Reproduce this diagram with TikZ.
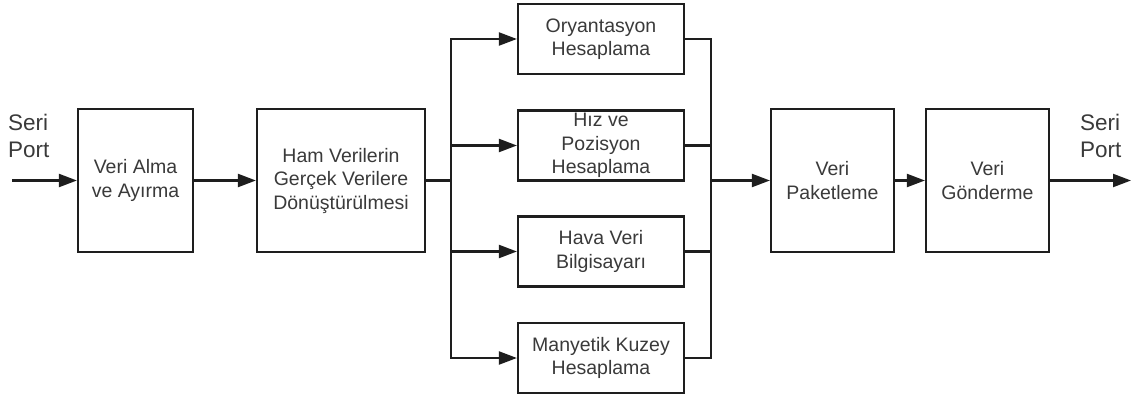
\documentclass[tikz,border=0pt]{standalone}
\usepackage{fontspec}
\setmainfont{Liberation Sans}
\usetikzlibrary{arrows.meta}
\definecolor{txt}{HTML}{3A3A3A}
\definecolor{ln}{HTML}{1E1E1E}
\begin{document}
\begin{tikzpicture}[x=1pt,y=-1pt,
  blk/.style={draw=ln,line width=2.2pt,fill=white,align=center,text=txt,
    font=\fontsize{19.5}{23.5}\selectfont,inner sep=0pt},
  lbl/.style={align=left,text=txt,font=\fontsize{22.5}{27}\selectfont,inner sep=0pt},
  wire/.style={draw=ln,line width=2.2pt},
  arr/.style={wire,-{Triangle[length=18pt,width=13pt]}}]
\useasboundingbox (0,0) rectangle (1137,401);

% main chain
\node[blk,minimum width=115pt,minimum height=143pt] (alma) at (135.5,180.5) {Veri Alma\\ve Ayırma};
\node[blk,minimum width=168pt,minimum height=143pt] (ham) at (341,180.5) {Ham Verilerin\\Gerçek Verilere\\Dönüştürülmesi};
\node[blk,minimum width=123pt,minimum height=143pt] (paket) at (832.5,180.5) {Veri\\Paketleme};
\node[blk,minimum width=123pt,minimum height=143pt] (gonder) at (987.5,180.5) {Veri\\Gönderme};

% parallel computations
\node[blk,minimum width=166pt,minimum height=70pt] (ory) at (601,39) {Oryantasyon\\Hesaplama};
\node[blk,minimum width=166pt,minimum height=70pt] (hiz) at (601,145.5) {Hız ve\\Pozisyon\\Hesaplama};
\node[blk,minimum width=166pt,minimum height=70pt] (hava) at (601,251.5) {Hava Veri\\Bilgisayarı};
\node[blk,minimum width=166pt,minimum height=70pt] (kuzey) at (601,358) {Manyetik Kuzey\\Hesaplama};

% port labels
\node[lbl,anchor=north west] (inlbl) at (8,114) {Seri\\Port};
\node[lbl,anchor=north west] (outlbl) at (1080,114) {Seri\\Port};

\coordinate (in) at (12,180.5);
\coordinate (out) at (1131,180.5);
\coordinate (brL) at (451,180.5);
\coordinate (brR) at (711,180.5);

% connectors
\draw[arr] (in) -- (alma.west);
\draw[arr] (alma.east) -- (ham.west);
\draw[wire] (ham.east) -- (brL);
\foreach \n in {ory,hiz,hava,kuzey}{
  \draw[arr] (brL) |- (\n.west);
  \draw[wire] (\n.east) -| (brR);
}
\draw[arr] (brR) -- (paket.west);
\draw[arr] (paket.east) -- (gonder.west);
\draw[arr] (gonder.east) -- (out);
\end{tikzpicture}
\end{document}
